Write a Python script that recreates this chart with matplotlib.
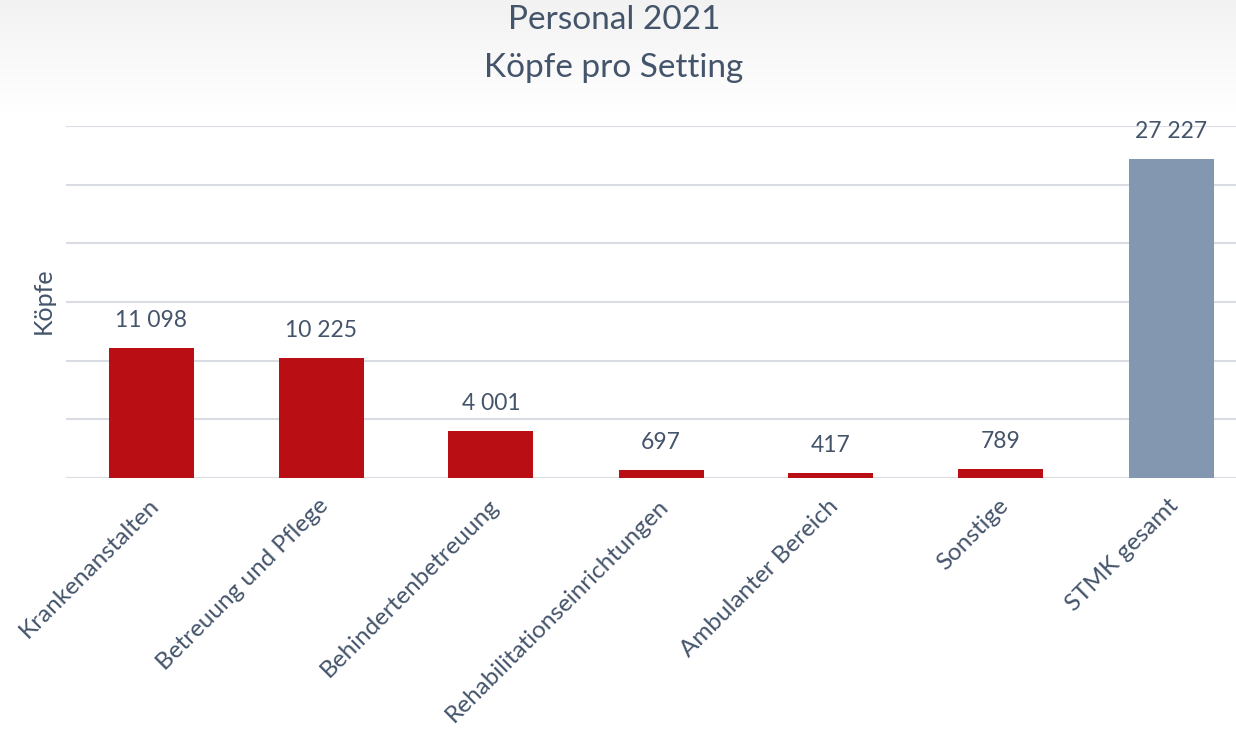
import matplotlib
matplotlib.use("Agg")
import matplotlib.pyplot as plt
import matplotlib.transforms as mtransforms
import numpy as np

categories = ["Krankenanstalten", "Betreuung und Pflege", "Behindertenbetreuung",
              "Rehabilitationseinrichtungen", "Ambulanter Bereich", "Sonstige", "STMK gesamt"]
values = [11098, 10225, 4001, 697, 417, 789, 27227]
labels = ["11 098", "10 225", "4 001", "697", "417", "789", "27 227"]
colors = ["#B90E14"] * 6 + ["#8497B0"]

plt.rcParams['font.family'] = ['Lato', 'DejaVu Sans']
txt = "#44546A"

W, H = 1236, 734
fig = plt.figure(figsize=(W / 100, H / 100), dpi=100)

# background gradient at top
bg = fig.add_axes([0, 0, 1, 1], zorder=-10)
grad = np.ones((H, 2))
top = 110
for i in range(top):
    grad[i, :] = 0.95 + 0.05 * (i / top)
bg.imshow(np.dstack([grad] * 3), aspect='auto', extent=[0, 1, 0, 1], origin='upper')
bg.axis('off')

left, right, bottom, topy = 66, 1236, 478, 126
ax = fig.add_axes([left / W, 1 - bottom / H, (right - left) / W, (bottom - topy) / H])
ax.patch.set_alpha(0)
x = np.arange(len(categories))
ax.bar(x, values, width=0.5, color=colors, zorder=3)
ax.set_xlim(-0.5, (1236 - 151) / 170)
ax.set_ylim(0, 30000)
ax.set_yticks(np.arange(0, 30001, 5000))
ax.yaxis.grid(True, color="#D9DDE3", linewidth=1.5, zorder=0)
ax.tick_params(axis='y', length=0, labelleft=False)
ax.tick_params(axis='x', length=0, pad=0)
for s in ax.spines.values():
    s.set_visible(False)
ax.set_xticks(x)
ax.set_xticklabels(categories, rotation=45, ha='right', va='top', rotation_mode='anchor',
                   fontsize=17.5, color=txt)
off = mtransforms.ScaledTranslation(-3 / 100, -17 / 100, fig.dpi_scale_trans)
for t in ax.get_xticklabels():
    t.set_transform(t.get_transform() + off)
for xi, v, lab in zip(x, values, labels):
    ax.annotate(lab, (xi, v), xytext=(0, 12), textcoords='offset points',
                ha='center', va='bottom', fontsize=16.5, color=txt)

fig.text(43 / W, 1 - 301 / H, "Köpfe", rotation=90, ha='center', va='center',
         fontsize=18, color=txt)
fig.text(614 / W, 1 - 20 / H, "Personal 2021", ha='center', va='center', fontsize=24, color=txt)
fig.text(614 / W, 1 - 68 / H, "Köpfe pro Setting", ha='center', va='center', fontsize=24, color=txt)

fig.savefig("out.png", dpi=100)
